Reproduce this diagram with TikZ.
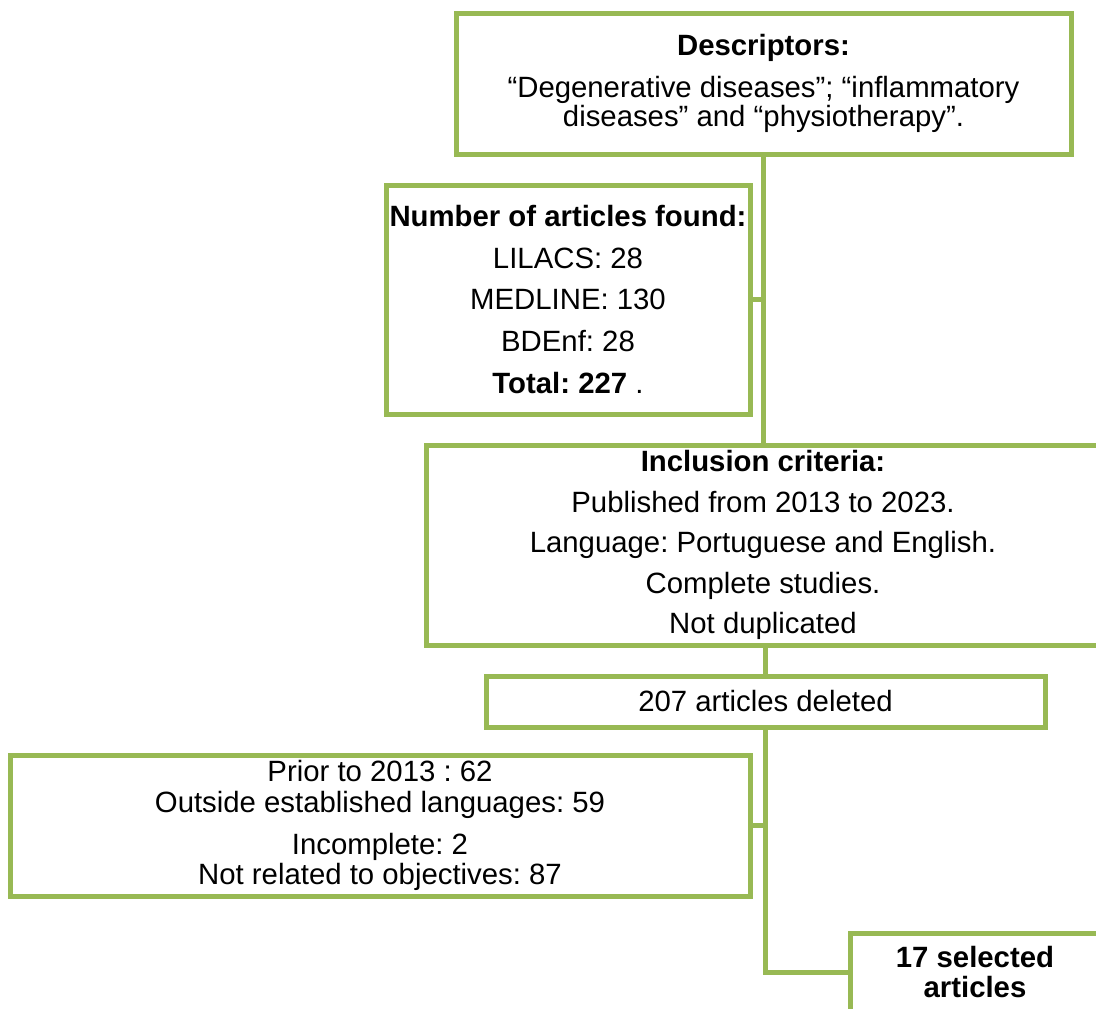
\documentclass[tikz,border=0pt]{standalone}
\usepackage{fontspec}
\setmainfont{Liberation Sans}
\frenchspacing
\definecolor{boxgreen}{RGB}{152,185,84}

\tikzset{every picture/.style={line width=3.75pt}}
\tikzset{box/.style={draw=boxgreen, line width=3.75pt, line join=miter, align=center, inner sep=0pt, font=\fontsize{22}{22}\selectfont}}
\tikzset{link/.style={draw=boxgreen, line width=3.75pt, line join=miter}}

\begin{document}
\begin{tikzpicture}[x=0.75pt,y=0.75pt,yscale=-1,xscale=1]
\useasboundingbox (0,0) rectangle (1096,1008);

% Text Node
\draw (763.5,83.5) node [box, minimum width=461.25pt, minimum height=105.75pt] (desc) {\textbf{Descriptors:}\\[9.5pt]“Degenerative diseases”; “inflammatory\\diseases” and “physiotherapy”.};
% Text Node
\draw (568,299.5) node [box, minimum width=273pt, minimum height=171.75pt, font=\fontsize{22}{31.3}\selectfont] (found) {\textbf{Number of articles found:}\\LILACS: 28\\MEDLINE: 130\\BDEnf: 28\\\textbf{Total: 227} .};
% Text Node
\draw (763,545) node [box, minimum width=505.5pt, minimum height=150pt, font=\fontsize{22}{30.4}\selectfont] (incl) {\textbf{Inclusion criteria:}\\Published from 2013 to 2023.\\Language: Portuguese and English.\\Complete studies.\\Not duplicated};
% Text Node
\draw (765.5,701.5) node [box, minimum width=419.25pt, minimum height=38.25pt] (deleted) {207 articles deleted};
% Text Node
\draw (380,825.5) node [box, minimum width=555pt, minimum height=105.75pt, font=\fontsize{22}{23}\selectfont] (prior) {Prior to 2013 : 62\\Outside established languages: 59\\[8.5pt]Incomplete: 2\\Not related to objectives: 87};
% Text Node
\draw (975,972) node [box, minimum width=187.5pt, minimum height=58.5pt, font=\fontsize{22}{22.5}\selectfont\bfseries] (selected) {17 selected\\articles};

%Straight Lines
\draw [link] (desc.south) -- (desc.south |- incl.north) ;
%Straight Lines
\draw [link] (found.east) -- (found.east -| desc.south) ;
%Straight Lines
\draw [link] (incl.south -| deleted.north) -- (deleted.north) ;
%Straight Lines
\draw [link] (deleted.south) |- (selected.west) ;
%Straight Lines
\draw [link] (prior.east) -- (prior.east -| deleted.south) ;

\end{tikzpicture}
\end{document}
